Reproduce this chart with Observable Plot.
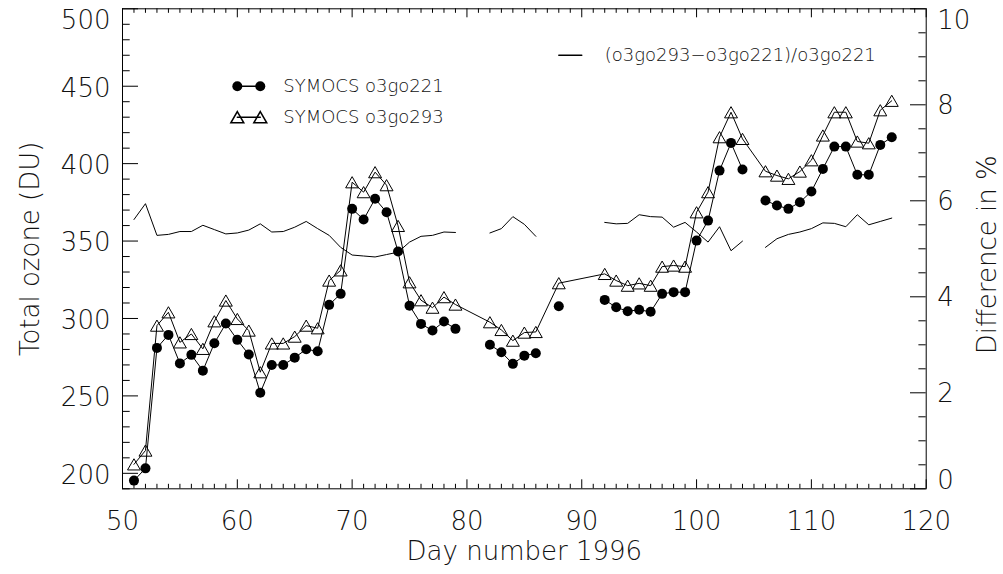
<!DOCTYPE html>
<html>
<head>
<meta charset="utf-8">
<script src="https://cdn.jsdelivr.net/npm/d3@7"></script>
<script src="https://cdn.jsdelivr.net/npm/@observablehq/plot@0.6"></script>
<style>
  html, body { margin: 0; padding: 0; background: #fff; }
  #chart svg { display: block; }
</style>
</head>
<body>
<div id="chart"></div>
<script>
// ---- data ----
const days = [51,52,53,54,55,56,57,58,59,60,61,62,63,64,65,66,67,68,69,70,71,72,73,74,75,76,77,78,79,
              82,83,84,85,86,
              88,
              92,93,94,95,96,97,98,99,100,101,102,103,104,
              106,107,108,109,110,111,112,113,114,115,116,117];
const o3go221 = [195.3,203.2,281,289.4,271,276.5,266.3,284,296.7,286.2,276.7,252,270,270,274.7,280.1,278.8,308.8,315.9,370.8,363.9,377.3,368.6,343.2,308.3,296.5,292.2,298,293.3,
                 283,278.2,270.7,276,277.5,
                 307.9,
                 312,307.2,304.7,305.6,304.3,315.9,317,317,350.3,363.2,395.5,413.4,396.2,
                 376.2,373,370.8,375.1,382,396.6,411,411,392.8,392.8,412.1,417.1];
const o3go293 = [205.8,214.7,295.4,304,284.6,290,280.4,298.2,311.6,299.7,292.2,265.3,283.9,283.9,288.3,295.4,293.7,324.5,331.1,388,381.6,394.5,386.1,359.8,323.4,311.8,307,313.8,309,
                 297.6,292.6,285.7,290.9,291.3,
                 322.8,
                 328.8,324.5,321.2,322.7,321.2,333.5,334.2,333.5,368.6,381.6,417.1,433.2,416,
                 395.1,392.3,390.2,394.9,402.2,418.2,433.2,433.2,414.3,413.2,434.5,440.6];
const diffPct = [5.61,5.94,5.28,5.30,5.36,5.36,5.49,5.40,5.31,5.33,5.39,5.52,5.35,5.36,5.45,5.57,5.42,5.28,5.03,4.87,4.85,4.83,4.88,4.93,5.14,5.26,5.28,5.35,5.34,
                 5.33,5.42,5.67,5.51,5.26,
                 null,
                 5.55,5.52,5.53,5.71,5.67,5.66,5.45,5.55,5.35,5.14,5.46,4.96,5.16,
                 5.03,5.21,5.30,5.35,5.42,5.54,5.53,5.46,5.71,5.50,5.57,5.64];

const xTickLabels = [50,60,70,80,90,100,110,120];
const yTickLabels = [200,250,300,350,400,450,500];
const pctTickLabels = [0,2,4,6,8,10];
const seriesNames = ["SYMOCS o3go221", "SYMOCS o3go293", "(o3go293\u2212o3go221)/o3go221"];
const xTitle = "Day number 1996";
const yTitle = "Total ozone (DU)";
const y2Title = "Difference in %";

// ---- derived tables ----
const Y0 = 190, Y1 = 500, P1 = 10;
const toDU = p => (p == null ? NaN : Y0 + p * (Y1 - Y0) / P1);
let seg = 0;
const rows = days.map((d, i) => {
  if (i > 0 && d - days[i - 1] > 1) seg++;
  return {day: d, a: o3go221[i], b: o3go293[i], pct: diffPct[i], seg};
});

const W = 1003, H = 574;
const mL = 122, mR = W - 925.7, mT = 8.3, mB = H - 488.3;
const pw = W - mL - mR, ph = H - mT - mB;

const allDays = d3.range(50, 121);
const minorDays = allDays.filter(d => d % 10 !== 0);
const majorDays = allDays.filter(d => d % 10 === 0);
const yAll = d3.range(190, 501, 10);
const yMinor = yAll.filter(v => v % 50 !== 0);
const yMajor = yAll.filter(v => v % 50 === 0);
const pAll = d3.range(0, 10.01, 0.5);
const pMinor = pAll.filter(p => p % 2 !== 0);
const pMajor = pAll.filter(p => p % 2 === 0);

const txt = "#111";
const F = {fontFamily: "DejaVu Sans", fontWeight: 200};

const chart = Plot.plot({
  width: W, height: H,
  marginLeft: mL, marginRight: mR, marginTop: mT, marginBottom: mB,
  x: {domain: [50, 120], axis: null},
  y: {domain: [Y0, Y1], axis: null},
  style: {fontFamily: "DejaVu Sans", background: "#fff"},
  marks: [
    // ticks (inward)
    Plot.tickX(minorDays, {x: d => d, insetTop: ph - 4.5, stroke: "#000"}),
    Plot.tickX(majorDays, {x: d => d, insetTop: ph - 9, stroke: "#000"}),
    Plot.tickX(minorDays, {x: d => d, insetBottom: ph - 4.5, stroke: "#000"}),
    Plot.tickX(majorDays, {x: d => d, insetBottom: ph - 9, stroke: "#000"}),
    Plot.tickY(yMinor, {y: d => d, insetRight: pw - 7.7, stroke: "#000"}),
    Plot.tickY(yMajor, {y: d => d, insetRight: pw - 16, stroke: "#000"}),
    Plot.tickY(pMinor, {y: p => toDU(p), insetLeft: pw - 7.3, stroke: "#000"}),
    Plot.tickY(pMajor, {y: p => toDU(p), insetLeft: pw - 15.7, stroke: "#000"}),
    Plot.frame({stroke: "#000"}),

    // tick labels
    Plot.text(xTickLabels, {x: d => d, text: d => String(d), frameAnchor: "bottom", dy: 33, fontSize: 26, fill: txt, lineAnchor: "middle", ...F}),
    Plot.text(yTickLabels.filter(v => v !== 500), {y: d => d, text: d => String(d), frameAnchor: "left", dx: -12, dy: 2, textAnchor: "end", fontSize: 26, fill: txt, ...F}),
    Plot.text(yTickLabels.filter(v => v === 500), {y: d => d, text: d => String(d), frameAnchor: "left", dx: -12, dy: 12, textAnchor: "end", fontSize: 26, fill: txt, ...F}),
    Plot.text(pctTickLabels.filter(p => p > 0 && p < 10), {y: p => toDU(p), text: p => String(p), frameAnchor: "right", dx: 11, dy: 1, textAnchor: "start", fontSize: 26, fill: txt, ...F}),
    Plot.text(pctTickLabels.filter(p => p === 10), {y: p => toDU(p), text: p => String(p), frameAnchor: "right", dx: 11, dy: 12, textAnchor: "start", fontSize: 26, fill: txt, ...F}),
    Plot.text(pctTickLabels.filter(p => p === 0), {y: p => toDU(p), text: p => String(p), frameAnchor: "right", dx: 11, dy: -8, textAnchor: "start", fontSize: 26, fill: txt, ...F}),

    // axis titles
    Plot.text([xTitle], {frameAnchor: "bottom", dy: 63, lineAnchor: "middle", textAnchor: "middle", fontSize: 26, fill: txt, letterSpacing: 2.4, ...F}),
    Plot.text([yTitle], {frameAnchor: "left", dx: -92, rotate: -90, textAnchor: "middle", lineAnchor: "middle", fontSize: 26, fill: txt, letterSpacing: 1.8, ...F}),
    Plot.text([y2Title], {frameAnchor: "right", dx: 61, dy: 6, rotate: -90, textAnchor: "middle", lineAnchor: "middle", fontSize: 26, fill: txt, letterSpacing: 4.5, ...F}),

    // difference line (right axis)
    Plot.line(rows, {x: "day", y: d => toDU(d.pct), z: "seg", stroke: "#000", strokeWidth: 1}),

    // o3go293: continuous line with hollow triangles
    Plot.line(rows, {x: "day", y: "b", stroke: "#000", strokeWidth: 1}),
    Plot.dot(rows, {x: "day", y: "b", symbol: "triangle", r: 4.8, dy: 1.9, fill: "none", stroke: "#000", strokeWidth: 1}),

    // o3go221: broken line with filled circles
    Plot.line(rows, {x: "day", y: "a", z: "seg", stroke: "#000", strokeWidth: 1}),
    Plot.dot(rows, {x: "day", y: "a", r: 5, fill: "#000", stroke: "none"}),

    // legend (placed in data coordinates)
    Plot.line([{x: 60, y: 450}, {x: 62, y: 450}], {x: "x", y: "y", stroke: "#000"}),
    Plot.dot([{x: 60, y: 450}, {x: 62, y: 450}], {x: "x", y: "y", r: 5, fill: "#000"}),
    Plot.text([seriesNames[0]], {x: 64, y: 450, textAnchor: "start", fontSize: 18, letterSpacing: 1.5, fill: txt, ...F}),
    Plot.line([{x: 60, y: 430}, {x: 62, y: 430}], {x: "x", y: "y", stroke: "#000"}),
    Plot.dot([{x: 60, y: 430}, {x: 62, y: 430}], {x: "x", y: "y", symbol: "triangle", r: 4.8, dy: 1.9, fill: "none", stroke: "#000"}),
    Plot.text([seriesNames[1]], {x: 64, y: 430, textAnchor: "start", fontSize: 18, letterSpacing: 1.5, fill: txt, ...F}),
    Plot.line([{x: 88, y: 470}, {x: 90, y: 470}], {x: "x", y: "y", stroke: "#000"}),
    Plot.text([seriesNames[2]], {x: 92, y: 470, textAnchor: "start", fontSize: 18, letterSpacing: 1.6, fill: txt, ...F})
  ]
});
document.getElementById("chart").appendChild(chart);
</script>
</body>
</html>
